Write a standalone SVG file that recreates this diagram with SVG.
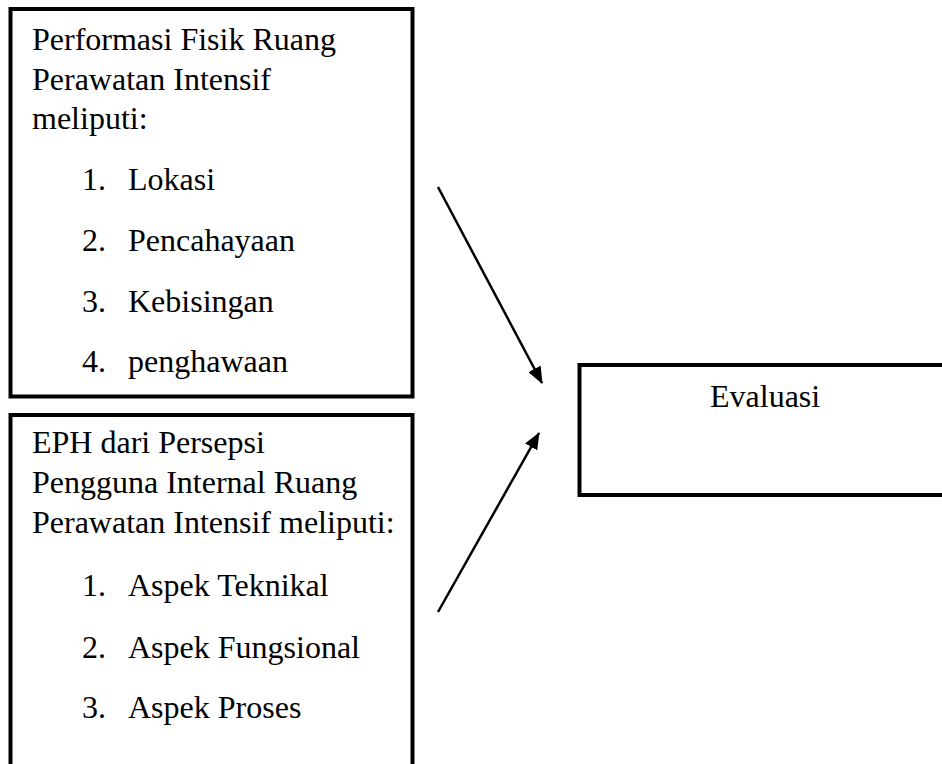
<svg xmlns="http://www.w3.org/2000/svg" width="942" height="764" viewBox="0 0 942 764">
<style>
.box{fill:#fff;stroke:#000;stroke-width:4}
.t{font-family:"Liberation Serif","Times New Roman",serif;font-size:32px;fill:#000}
.c{stroke:#000;stroke-width:2.5;fill:none}
</style>
<defs>
<marker id="ah" markerUnits="userSpaceOnUse" markerWidth="18" markerHeight="14" refX="16" refY="7" orient="auto">
<path d="M0,0 L17,7 L0,14 Z" fill="#000"/>
</marker>
</defs>
<rect width="942" height="764" fill="#fff"/>
<g id="node-performasi">
<rect class="box" x="10.5" y="9" width="402" height="387.5"/>
<text class="t" x="32" y="50">Performasi Fisik Ruang</text>
<text class="t" x="32" y="90">Perawatan Intensif</text>
<text class="t" x="32" y="129">meliputi:</text>
<text class="t" x="82" y="190">1.</text><text class="t" x="128" y="190">Lokasi</text>
<text class="t" x="82" y="251">2.</text><text class="t" x="128" y="251">Pencahayaan</text>
<text class="t" x="82" y="312">3.</text><text class="t" x="128" y="312">Kebisingan</text>
<text class="t" x="82" y="372">4.</text><text class="t" x="128" y="372">penghawaan</text>
</g>
<g id="node-eph">
<rect class="box" x="10.5" y="415" width="402" height="400"/>
<text class="t" x="32" y="453">EPH dari Persepsi</text>
<text class="t" x="32" y="493">Pengguna Internal Ruang</text>
<text class="t" x="32" y="533">Perawatan Intensif meliputi:</text>
<text class="t" x="82" y="596">1.</text><text class="t" x="128" y="596">Aspek Teknikal</text>
<text class="t" x="82" y="658">2.</text><text class="t" x="128" y="658">Aspek Fungsional</text>
<text class="t" x="82" y="718">3.</text><text class="t" x="128" y="718">Aspek Proses</text>
</g>
<g id="node-evaluasi">
<rect class="box" x="579.5" y="365" width="400" height="130"/>
<text class="t" x="710" y="407">Evaluasi</text>
</g>
<g id="connectors">
<line class="c" x1="438" y1="187" x2="542" y2="383" marker-end="url(#ah)"/>
<line class="c" x1="438" y1="612" x2="539" y2="433" marker-end="url(#ah)"/>
</g>
</svg>
